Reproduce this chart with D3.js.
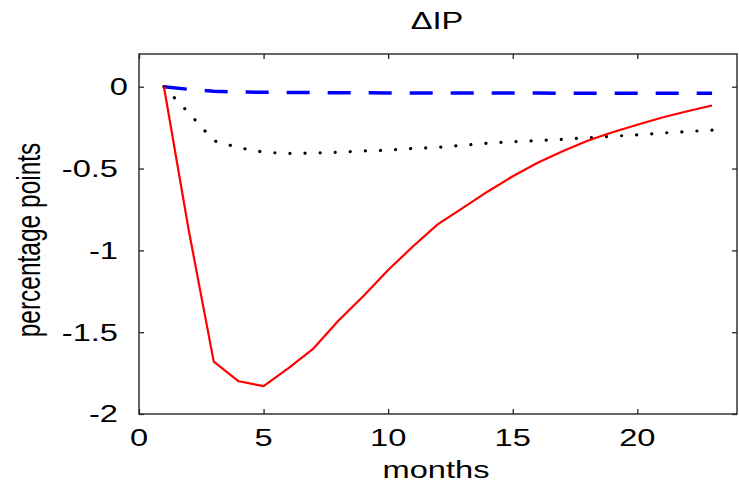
<!DOCTYPE html>
<html>
<head>
<meta charset="utf-8">
<script src="https://cdn.jsdelivr.net/npm/d3@7"></script>
<style>
  body { margin: 0; background: #fff; }
  text { font-family: "Liberation Sans", Arial, sans-serif; fill: #000; }
</style>
</head>
<body>
<svg id="chart"></svg>
<script>
// impulse responses of IP
const months = [1, 2, 3, 4, 5, 6, 7, 8, 9, 10, 11, 12, 13, 14, 15, 16, 17, 18, 19, 20, 21, 22, 23];
const responseRed = [0, -0.88, -1.68, -1.80, -1.83, -1.72, -1.60, -1.43, -1.28, -1.12, -0.975, -0.84,
  -0.74, -0.64, -0.547, -0.465, -0.394, -0.330, -0.278, -0.232, -0.188, -0.150, -0.115];
const responseDotted = [0, -0.16, -0.33, -0.372, -0.40, -0.408, -0.405, -0.40, -0.392, -0.388, -0.377, -0.371,
  -0.358, -0.345, -0.336, -0.329, -0.321, -0.312, -0.303, -0.294, -0.283, -0.274, -0.265];
const responseBlue = [0, -0.016, -0.028, -0.032, -0.034, -0.035, -0.036, -0.037, -0.037, -0.038, -0.038, -0.038,
  -0.039, -0.039, -0.039, -0.039, -0.04, -0.04, -0.04, -0.04, -0.04, -0.04, -0.04];
const xTicks = [0, 5, 10, 15, 20];
const yTicks = [0, -0.5, -1, -1.5, -2];
const yTickLabels = ["0", "-0.5", "-1", "-1.5", "-2"];

const width = 739, height = 485;
const margin = {top: 54, right: 2, bottom: 71, left: 139};
const stretch = 1.36; // the text in the picture is wider than it is tall

const svg = d3.select("#chart")
  .attr("width", width)
  .attr("height", height);

const x = d3.scaleLinear().domain([0, 24]).range([margin.left, width - margin.right]);
const y = d3.scaleLinear().domain([-2, 0.2]).range([height - margin.bottom, margin.top]);

// ticks on all four sides, pointing inward
const tickLen = 5;
svg.append("g")
  .attr("transform", `translate(0,${y(-2)})`)
  .call(d3.axisBottom(x).tickValues(xTicks).tickSize(-tickLen).tickFormat(""));
svg.append("g")
  .attr("transform", `translate(0,${y(0.2)})`)
  .call(d3.axisTop(x).tickValues(xTicks).tickSize(-tickLen).tickFormat(""));
svg.append("g")
  .attr("transform", `translate(${x(0)},0)`)
  .call(d3.axisLeft(y).tickValues(yTicks).tickSize(-tickLen).tickFormat(""));
svg.append("g")
  .attr("transform", `translate(${x(24)},0)`)
  .call(d3.axisRight(y).tickValues(yTicks).tickSize(-tickLen).tickFormat(""));
svg.selectAll(".domain").remove();
svg.selectAll(".tick line").attr("stroke", "#262626").attr("stroke-width", 1.3);

// frame
svg.append("rect")
  .attr("x", x(0)).attr("y", y(0.2))
  .attr("width", x(24) - x(0)).attr("height", y(-2) - y(0.2))
  .attr("fill", "none")
  .attr("stroke", "#262626")
  .attr("stroke-width", 1.4);

// tick labels
svg.selectAll(".xlab")
  .data(xTicks)
  .join("text")
  .attr("class", "xlab")
  .attr("text-anchor", "middle")
  .attr("font-size", 24)
  .attr("transform", d => `translate(${x(d)},446) scale(${stretch},1)`)
  .text(d => d);

svg.selectAll(".ylab")
  .data(yTicks)
  .join("text")
  .attr("class", "ylab")
  .attr("text-anchor", "end")
  .attr("font-size", 24)
  .attr("dy", "0.35em")
  .attr("transform", d => `translate(${d === 0 ? 128 : 118},${y(d)}) scale(${stretch},1)`)
  .text((d, i) => yTickLabels[i]);

// titles
svg.append("text")
  .attr("text-anchor", "middle")
  .attr("font-size", 24)
  .attr("transform", `translate(437,29) scale(${stretch},1)`)
  .text("\u0394IP");

svg.append("text")
  .attr("text-anchor", "middle")
  .attr("font-size", 24)
  .attr("transform", `translate(436,478) scale(${stretch},1)`)
  .text("months");

svg.append("text")
  .attr("text-anchor", "middle")
  .attr("font-size", 24.5)
  .attr("transform", `translate(40,240) scale(${stretch},1) rotate(-90)`)
  .text("percentage points");

// lines
const line = vals => d3.line()
  .x((d, i) => x(months[i]))
  .y(d => y(d))(vals);

svg.append("path")
  .attr("d", line(responseBlue))
  .attr("fill", "none")
  .attr("stroke", "#0000ff")
  .attr("stroke-width", 3.5)
  .attr("stroke-dasharray", "23,18");

svg.append("path")
  .attr("d", line(responseDotted))
  .attr("fill", "none")
  .attr("stroke", "#000")
  .attr("stroke-width", 3.2)
  .attr("stroke-linecap", "round")
  .attr("stroke-dasharray", "0.1,15");

svg.append("path")
  .attr("d", line(responseRed))
  .attr("fill", "none")
  .attr("stroke", "#ff0000")
  .attr("stroke-width", 2.2)
  .attr("stroke-linejoin", "round");
</script>
</body>
</html>
